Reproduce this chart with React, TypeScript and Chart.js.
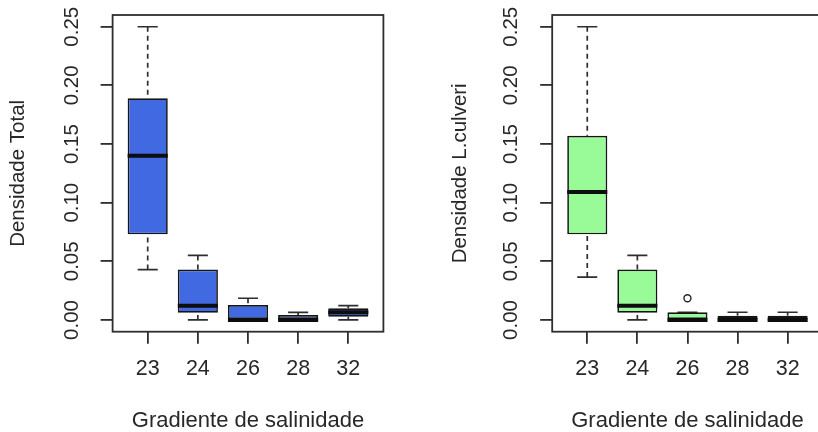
import React, { useEffect, useRef } from 'react';
import { Chart, registerables } from 'chart.js';

Chart.register(...registerables);

// ---------- data ----------
const categories = ['23', '24', '26', '28', '32'];
const xPositions = [1, 2, 3, 4, 5];
const yTickValues = [0, 0.05, 0.1, 0.15, 0.2, 0.25];
const yTickLabels = ['0.00', '0.05', '0.10', '0.15', '0.20', '0.25'];

// Densidade Total
const totalMin = [0.043, 0, 0, 0, 0];
const totalQ1 = [0.073, 0.0062, 0, 0, 0.0028];
const totalMedian = [0.14, 0.0122, 0, 0, 0.0066];
const totalQ3 = [0.189, 0.043, 0.0128, 0.0043, 0.01];
const totalMax = [0.25, 0.055, 0.0185, 0.0065, 0.0122];
const totalOutlierX: number[] = [];
const totalOutlierY: number[] = [];

// Densidade L.culveri
const lcMin = [0.0366, 0, 0, 0, 0];
const lcQ1 = [0.073, 0.0062, 0, 0, 0];
const lcMedian = [0.109, 0.0122, 0, 0, 0];
const lcQ3 = [0.157, 0.043, 0.0066, 0.0037, 0.0037];
const lcMax = [0.25, 0.055, 0.0066, 0.0066, 0.0066];
const lcOutlierX = [3];
const lcOutlierY = [0.0185];

const xTitle = 'Gradiente de salinidade';
const FONT = "'Liberation Sans', Arial, Helvetica, sans-serif";
const TEXT = '#282828';
const LINE = '#2e2e2e';

type Stats = { min: number[]; q1: number[]; median: number[]; q3: number[]; max: number[] };

function makeBoxPlugin(stats: Stats) {
  return {
    id: 'rBoxplot',
    beforeDatasetsDraw(chart: any) {
      const { ctx, scales } = chart;
      const x = scales.x;
      const y = scales.y;
      ctx.save();
      ctx.strokeStyle = LINE;
      ctx.lineWidth = 1.7;
      xPositions.forEach((xv, i) => {
        const px = x.getPixelForValue(xv);
        const cl = x.getPixelForValue(xv - 0.2);
        const cr = x.getPixelForValue(xv + 0.2);
        const yMax = y.getPixelForValue(stats.max[i]);
        const yMin = y.getPixelForValue(stats.min[i]);
        const yQ1 = y.getPixelForValue(stats.q1[i]);
        const yQ3 = y.getPixelForValue(stats.q3[i]);
        ctx.setLineDash([5, 4]);
        ctx.beginPath();
        ctx.moveTo(px, yMax);
        ctx.lineTo(px, yQ3);
        ctx.stroke();
        ctx.beginPath();
        ctx.moveTo(px, yMin);
        ctx.lineTo(px, yQ1);
        ctx.stroke();
        ctx.setLineDash([]);
        ctx.beginPath();
        ctx.moveTo(cl, yMax);
        ctx.lineTo(cr, yMax);
        ctx.moveTo(cl, yMin);
        ctx.lineTo(cr, yMin);
        ctx.stroke();
      });
      ctx.restore();
    },
    afterDatasetsDraw(chart: any) {
      const { ctx, scales } = chart;
      const x = scales.x;
      const y = scales.y;
      ctx.save();
      ctx.strokeStyle = '#0d0d0d';
      ctx.lineWidth = 4;
      xPositions.forEach((xv, i) => {
        const l = x.getPixelForValue(xv - 0.4);
        const r = x.getPixelForValue(xv + 0.4);
        const py = y.getPixelForValue(stats.median[i]);
        ctx.beginPath();
        ctx.moveTo(l, py);
        ctx.lineTo(r, py);
        ctx.stroke();
      });
      ctx.restore();
    },
    afterDraw(chart: any) {
      const { ctx, chartArea, scales } = chart;
      const y = scales.y;
      ctx.save();
      ctx.strokeStyle = LINE;
      ctx.lineWidth = 1.8;
      ctx.strokeRect(chartArea.left, chartArea.top, chartArea.right - chartArea.left, chartArea.bottom - chartArea.top);
      ctx.fillStyle = TEXT;
      ctx.font = `20.5px ${FONT}`;
      ctx.textAlign = 'center';
      ctx.textBaseline = 'middle';
      yTickValues.forEach((v, i) => {
        const py = y.getPixelForValue(v);
        ctx.save();
        ctx.translate(chartArea.left - 40.5, py);
        ctx.rotate(-Math.PI / 2);
        ctx.fillText(yTickLabels[i], 0, 0);
        ctx.restore();
      });
      ctx.restore();
    },
  };
}

type PanelProps = {
  left: number;
  width: number;
  yTitle: string;
  fill: string;
  stats: Stats;
  outX: number[];
  outY: number[];
  yAxisWidth: number;
  padRight: number;
  yTitlePad: number;
};

function Panel(p: PanelProps) {
  const ref = useRef<HTMLCanvasElement>(null);
  useEffect(() => {
    if (!ref.current) return;
    const chart = new Chart(ref.current, {
      type: 'bar',
      data: {
        datasets: [
          {
            type: 'bar',
            data: xPositions.map((xv, i) => ({ x: xv, y: [p.stats.q1[i], p.stats.q3[i]] })) as any,
            backgroundColor: p.fill,
            borderColor: '#151515',
            borderWidth: 1.7,
            borderSkipped: false,
            grouped: false,
            categoryPercentage: 1,
            barPercentage: 0.8,
          } as any,
          {
            type: 'scatter',
            data: p.outX.map((xv, i) => ({ x: xv, y: p.outY[i] })),
            pointStyle: 'circle',
            pointRadius: 3.5,
            borderColor: '#222222',
            backgroundColor: 'rgba(255,255,255,0)',
            borderWidth: 1.4,
          } as any,
        ],
      },
      options: {
        responsive: false,
        animation: false,
        events: [],
        layout: { padding: { left: 0, top: 15, right: p.padRight, bottom: 0 } },
        plugins: { legend: { display: false }, tooltip: { enabled: false } },
        scales: {
          x: {
            type: 'linear',
            min: 0.3,
            max: 5.7,
            offset: false,
            afterBuildTicks: (s: any) => {
              s.ticks = xPositions.map((v) => ({ value: v }));
            },
            afterFit: (s: any) => {
              s.height = 100.3;
            },
            ticks: {
              autoSkip: false,
              padding: 15,
              color: TEXT,
              font: { family: FONT, size: 21.5, lineHeight: 1 },
              callback: (v: any) => categories[xPositions.indexOf(Number(v))] ?? '',
            },
            grid: { display: true, offset: false, drawOnChartArea: false, drawTicks: true, tickLength: 12, color: LINE, lineWidth: 1.8 },
            border: { display: false },
            title: {
              display: true,
              text: xTitle,
              color: TEXT,
              font: { family: FONT, size: 22, lineHeight: 1 },
              padding: { top: 0, bottom: 0 },
            },
          },
          y: {
            type: 'linear',
            min: -0.01,
            max: 0.26,
            afterBuildTicks: (s: any) => {
              s.ticks = yTickValues.map((v) => ({ value: v }));
            },
            afterFit: (s: any) => {
              s.width = p.yAxisWidth;
            },
            ticks: { display: false },
            grid: { display: true, drawOnChartArea: false, drawTicks: true, tickLength: 12, color: LINE, lineWidth: 1.8 },
            border: { display: false },
            title: {
              display: true,
              text: p.yTitle,
              color: TEXT,
              font: { family: FONT, size: 20.5, lineHeight: 1.2 },
              padding: { top: p.yTitlePad, bottom: 0 },
            },
          },
        },
      } as any,
      plugins: [makeBoxPlugin(p.stats)],
    });
    return () => chart.destroy();
  }, []);
  return (
    <canvas
      ref={ref}
      width={p.width}
      height={432}
      style={{ position: 'absolute', left: p.left, top: 0, width: p.width, height: 432 }}
    />
  );
}

export default function App() {
  useEffect(() => {
    document.body.style.margin = '0';
  }, []);
  return (
    <div style={{ position: 'fixed', left: 0, top: 0, width: 818, height: 432, overflow: 'hidden', background: '#ffffff' }}>
      <Panel
        left={0}
        width={409}
        yTitle="Densidade Total"
        fill="#4169E1"
        stats={{ min: totalMin, q1: totalQ1, median: totalMedian, q3: totalQ3, max: totalMax }}
        outX={totalOutlierX}
        outY={totalOutlierY}
        yAxisWidth={112.6}
        padRight={25.6}
        yTitlePad={6}
      />
      <Panel
        left={409}
        width={420}
        yTitle="Densidade L.culveri"
        fill="#98FB98"
        stats={{ min: lcMin, q1: lcQ1, median: lcMedian, q3: lcQ3, max: lcMax }}
        outX={lcOutlierX}
        outY={lcOutlierY}
        yAxisWidth={143.2}
        padRight={6.3}
        yTitlePad={38.7}
      />
    </div>
  );
}
